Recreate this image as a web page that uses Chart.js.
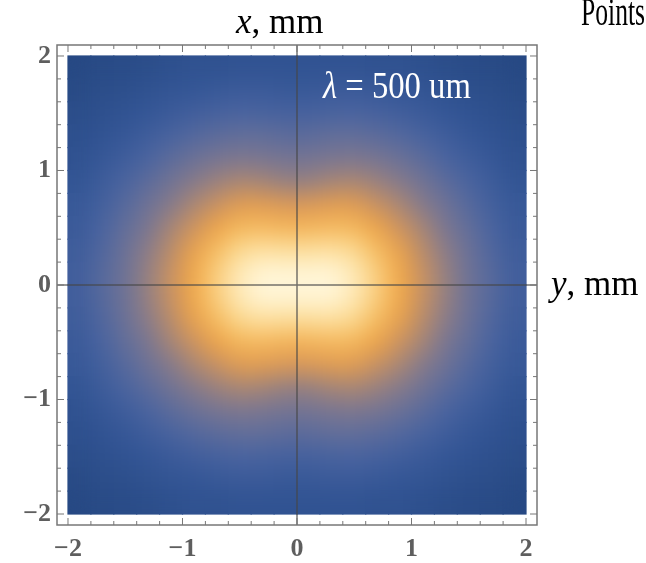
<!DOCTYPE html>
<html>
<head>
<meta charset="utf-8">
<script src="https://cdn.jsdelivr.net/npm/chart.js@4.4.0/dist/chart.umd.min.js"></script>
<style>
  html, body { margin: 0; padding: 0; background: #fff; }
</style>
</head>
<body>
<canvas id="field" width="646" height="563"></canvas>
<script>
// cell centres in mm (0.2 mm cells)
const yCentres = [-1.9, -1.7, -1.5, -1.3, -1.1, -0.9, -0.7, -0.5, -0.3, -0.1,
                  0.1, 0.3, 0.5, 0.7, 0.9, 1.1, 1.3, 1.5, 1.7, 1.9];
const xCentres = [1.9, 1.7, 1.5, 1.3, 1.1, 0.9, 0.7, 0.5, 0.3, 0.1,
                  -0.1, -0.3, -0.5, -0.7, -0.9, -1.1, -1.3, -1.5, -1.7, -1.9];
const tickValues = [-2, -1, 0, 1, 2];

// relative intensity (%), one row per xCentres entry (top first)
const intensity = [
  [1, 2, 3, 4, 6, 7, 7, 8, 8, 8, 8, 8, 8, 7, 7, 6, 4, 3, 2, 1],
  [2, 4, 5, 7, 9, 10, 12, 13, 13, 12, 12, 13, 13, 12, 10, 9, 7, 5, 4, 2],
  [4, 6, 8, 10, 13, 16, 18, 20, 19, 18, 18, 19, 20, 18, 16, 13, 10, 8, 6, 4],
  [6, 8, 11, 15, 19, 23, 26, 28, 28, 26, 26, 28, 28, 26, 23, 19, 15, 11, 8, 6],
  [7, 11, 15, 20, 26, 31, 35, 37, 36, 34, 34, 36, 37, 35, 31, 26, 20, 15, 11, 7],
  [9, 14, 20, 26, 33, 39, 43, 46, 45, 42, 42, 45, 46, 43, 39, 33, 26, 20, 14, 9],
  [12, 17, 24, 32, 39, 46, 52, 59, 59, 56, 56, 59, 59, 52, 46, 39, 32, 24, 17, 12],
  [13, 20, 28, 36, 45, 53, 64, 72, 73, 71, 71, 73, 72, 64, 53, 45, 36, 28, 20, 13],
  [15, 22, 31, 40, 49, 62, 74, 84, 87, 86, 86, 87, 84, 74, 62, 49, 40, 31, 22, 15],
  [16, 24, 32, 42, 52, 66, 80, 91, 97, 97, 97, 97, 91, 80, 66, 52, 42, 32, 24, 16],
  [16, 24, 32, 42, 52, 66, 80, 91, 97, 97, 97, 97, 91, 80, 66, 52, 42, 32, 24, 16],
  [15, 22, 31, 40, 49, 62, 74, 84, 87, 86, 86, 87, 84, 74, 62, 49, 40, 31, 22, 15],
  [13, 20, 28, 36, 45, 53, 64, 72, 73, 71, 71, 73, 72, 64, 53, 45, 36, 28, 20, 13],
  [12, 17, 24, 32, 39, 46, 52, 59, 59, 56, 56, 59, 59, 52, 46, 39, 32, 24, 17, 12],
  [9, 14, 20, 26, 33, 39, 43, 46, 45, 42, 42, 45, 46, 43, 39, 33, 26, 20, 14, 9],
  [7, 11, 15, 20, 26, 31, 35, 37, 36, 34, 34, 36, 37, 35, 31, 26, 20, 15, 11, 7],
  [6, 8, 11, 15, 19, 23, 26, 28, 28, 26, 26, 28, 28, 26, 23, 19, 15, 11, 8, 6],
  [4, 6, 8, 10, 13, 16, 18, 20, 19, 18, 18, 19, 20, 18, 16, 13, 10, 8, 6, 4],
  [2, 4, 5, 7, 9, 10, 12, 13, 13, 12, 12, 13, 13, 12, 10, 9, 7, 5, 4, 2],
  [1, 2, 3, 4, 6, 7, 7, 8, 8, 8, 8, 8, 8, 7, 7, 6, 4, 3, 2, 1]
];

// blue -> grey -> orange -> white, like the original colour function
const stops = [
  [0, [38, 72, 130]], [10, [52, 86, 150]], [20, [74, 100, 160]],
  [30, [104, 112, 152]], [38, [128, 120, 142]], [46, [170, 135, 116]],
  [55, [215, 150, 90]], [65, [240, 165, 70]], [75, [246, 190, 100]],
  [85, [252, 220, 150]], [95, [255, 242, 205]], [100, [255, 250, 228]]
];
function colourFor(v) {
  for (let i = 1; i < stops.length; i++) {
    if (v <= stops[i][0]) {
      const [a, ca] = stops[i - 1], [b, cb] = stops[i];
      const f = (v - a) / (b - a);
      const c = ca.map((k, n) => Math.round(k + (cb[n] - k) * f));
      return `rgb(${c[0]},${c[1]},${c[2]})`;
    }
  }
  return 'rgb(255,250,228)';
}

const cells = [];
xCentres.forEach((xv, i) => {
  yCentres.forEach((yv, j) => {
    cells.push({ x: yv, y: xv, v: intensity[i][j] });
  });
});

const pad = 0.096;   // frame sits a little outside the plotted range
const frameGrey = '#777';

// smooth the cell grid so it reads like a density plot
const smoothPlugin = {
  id: 'smooth',
  afterDatasetsDraw(chart) {
    const { ctx, canvas } = chart;
    const xs = chart.scales.x, ys = chart.scales.y;
    const l = xs.getPixelForValue(-2), r = xs.getPixelForValue(2);
    const t = ys.getPixelForValue(2), b = ys.getPixelForValue(-2);
    const dpr = chart.currentDevicePixelRatio;
    ctx.save();
    ctx.beginPath();
    ctx.rect(l, t, r - l, b - t);
    ctx.clip();
    ctx.filter = 'blur(11px)';
    ctx.drawImage(canvas, l * dpr, t * dpr, (r - l) * dpr, (b - t) * dpr, l, t, r - l, b - t);
    ctx.restore();

    // axes through the origin, across the whole frame
    const a = chart.chartArea;
    const x0 = xs.getPixelForValue(0), y0 = ys.getPixelForValue(0);
    ctx.save();
    ctx.strokeStyle = 'rgba(70,70,70,0.75)';
    ctx.lineWidth = 1.5;
    ctx.beginPath();
    ctx.moveTo(x0, a.top); ctx.lineTo(x0, a.bottom);
    ctx.moveTo(a.left, y0); ctx.lineTo(a.right, y0);
    ctx.stroke();
    ctx.restore();
  }
};

function labelWithItalic(ctx, first, rest, x, y, size) {
  ctx.font = `italic ${size}px "Liberation Serif"`;
  ctx.fillText(first, x, y);
  const w = ctx.measureText(first).width;
  ctx.font = `${size}px "Liberation Serif"`;
  ctx.fillText(rest, x + w, y);
}

const framePlugin = {
  id: 'frame',
  afterDraw(chart) {
    const { ctx, chartArea: a } = chart;
    const xs = chart.scales.x, ys = chart.scales.y;
    ctx.save();
    ctx.strokeStyle = frameGrey;
    ctx.lineWidth = 1.5;
    ctx.strokeRect(a.left, a.top, a.right - a.left, a.bottom - a.top);
    ctx.lineWidth = 1;
    ctx.beginPath();
    for (let k = -10; k <= 10; k++) {
      const v = k * 0.2;
      const len = k % 5 === 0 ? 7 : 4;
      const px = xs.getPixelForValue(v), py = ys.getPixelForValue(v);
      ctx.moveTo(px, a.top); ctx.lineTo(px, a.top + len);
      ctx.moveTo(px, a.bottom); ctx.lineTo(px, a.bottom - len);
      ctx.moveTo(a.left, py); ctx.lineTo(a.left + len, py);
      ctx.moveTo(a.right, py); ctx.lineTo(a.right - len, py);
    }
    ctx.stroke();

    // labels
    ctx.fillStyle = '#000';
    ctx.textBaseline = 'alphabetic';
    ctx.textAlign = 'left';
    labelWithItalic(ctx, 'x', ', mm', 236, 33, 35);
    labelWithItalic(ctx, 'y', ', mm', 551, 295, 35);

    ctx.save();
    ctx.translate(581, 25);
    ctx.scale(0.64, 1);
    ctx.font = '40px "Liberation Serif"';
    ctx.fillText('Points', 0, 0);
    ctx.restore();

    ctx.save();
    ctx.translate(323, 98);
    ctx.scale(0.86, 1);
    ctx.fillStyle = '#fff';
    labelWithItalic(ctx, '\u03bb', ' = 500 um', 0, 0, 38);
    ctx.restore();
    ctx.restore();
  }
};

function axisOptions(extra) {
  return Object.assign({
    type: 'linear',
    min: -2 - pad,
    max: 2 + pad,
    grid: { display: false, drawTicks: false },
    border: { display: false },
    afterBuildTicks: s => { s.ticks = tickValues.map(v => ({ value: v })); },
    ticks: {
      color: '#5e5e5e',
      font: { family: 'Liberation Serif', size: 26, weight: 'bold' },
      callback: v => String(v).replace('-', '\u2212')
    }
  }, extra);
}

const xAxis = axisOptions({ position: 'bottom', afterFit: s => { s.height = 38; } });
xAxis.ticks.padding = 9;
xAxis.ticks.maxRotation = 0;
const yAxis = axisOptions({ position: 'left', afterFit: s => { s.width = 57; } });
yAxis.ticks.padding = 6;

new Chart(document.getElementById('field'), {
  type: 'scatter',
  data: {
    datasets: [{
      data: cells,
      pointStyle: 'rect',
      borderWidth: 0,
      pointBorderWidth: 0,
      backgroundColor: c => colourFor(c.raw ? c.raw.v : 0),
      pointRadius: c => {
        const s = c.chart.scales.x;
        const side = Math.abs(s.getPixelForValue(0.2) - s.getPixelForValue(0));
        return (side / 2 + 0.6) * Math.SQRT2;
      }
    }]
  },
  options: {
    responsive: false,
    animation: false,
    events: [],
    layout: { padding: { top: 45, right: 109, bottom: 0, left: 0 } },
    plugins: { legend: { display: false }, tooltip: { enabled: false } },
    scales: { x: xAxis, y: yAxis }
  },
  plugins: [smoothPlugin, framePlugin]
});
</script>
</body>
</html>
